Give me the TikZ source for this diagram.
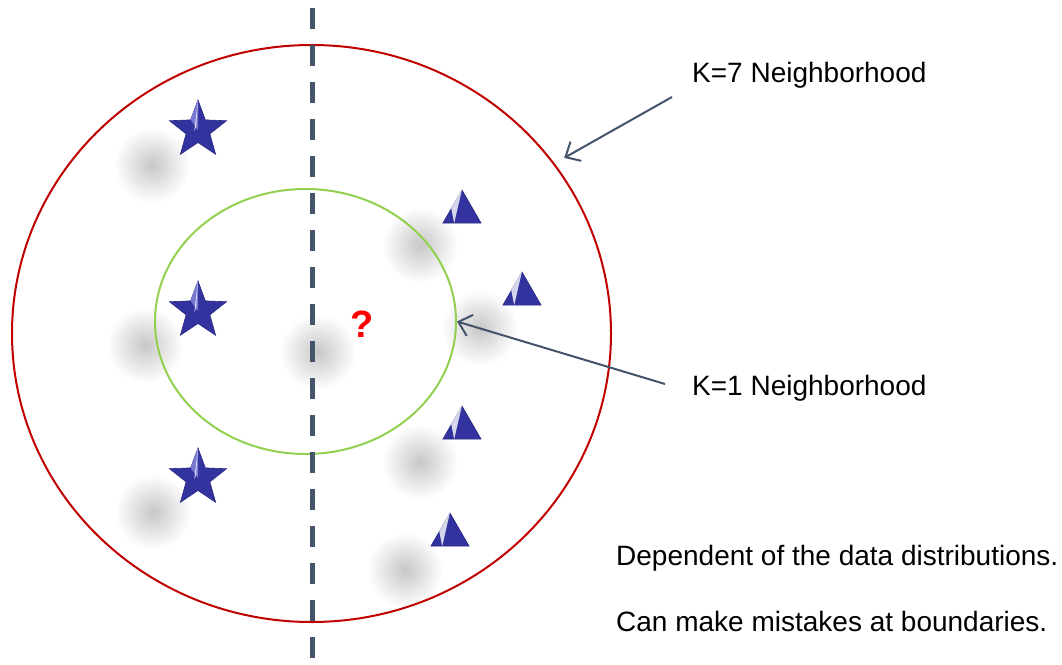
\documentclass[tikz,border=0pt]{standalone}
\usepackage{fontspec}
\setmainfont{Liberation Sans}
\usetikzlibrary{shapes.geometric, arrows.meta, calc}

\definecolor{slate}{RGB}{68,84,106}
\definecolor{ringred}{RGB}{192,0,0}
\definecolor{ringgreen}{RGB}{146,208,80}
\definecolor{markblue}{RGB}{51,51,160}
\definecolor{marklight}{RGB}{120,120,210}

\begin{document}
\begin{tikzpicture}[x=1pt, y=-1pt,
    lbl/.style={anchor=base west, inner sep=0pt, font=\fontsize{28}{32}\selectfont},
    starpt/.style={star, star points=5, star point ratio=2.4, minimum size=60pt,
        inner sep=0pt, fill=markblue, draw=markblue!80!black, line width=.6pt},
    tript/.style={regular polygon, regular polygon sides=3, minimum size=44pt,
        inner sep=0pt, fill=markblue, draw=markblue!80!black, line width=.6pt},
    blur/.style={inner color=black!22, outer color=white},
    pointer/.style={draw=slate, line width=2pt, -{Straight Barb[length=12pt, width=22pt]}}]
    \useasboundingbox (0,0) rectangle (1062,664);

    % soft shadows
    \foreach \x/\y in {152/165, 145/345, 153/512, 420/245, 480/328, 318/352, 420/462, 405/570}
        \shade[blur] (\x,\y) circle (38);

    % rings and divider
    \node[draw=ringred, line width=2pt, ellipse, minimum width=599pt, minimum height=577pt,
        inner sep=0pt] (k7) at (311.5,333.5) {};
    \node[draw=ringgreen, line width=2pt, ellipse, minimum width=301pt, minimum height=265pt,
        inner sep=0pt] (k1) at (305.5,321.5) {};
    \coordinate (divtop) at (312,8);
    \coordinate (divbot) at (312,664);
    \draw[slate, line width=5pt, dash pattern=on 21pt off 16pt] (divtop) -- (divbot);

    % stars
    \foreach \n/\y in {a/130, b/311, c/478} {
        \node[starpt] (s\n) at (198,\y) {};
        \fill[marklight] (s\n.center) -- (s\n.outer point 1) -- (s\n.inner point 1) -- cycle;
        \fill[white, opacity=.75] (s\n.outer point 1) -- ($(s\n.center)!.25!(s\n.inner point 1)$)
            -- ($(s\n.center)!.3!(s\n.inner point 2)$) -- cycle;
    }

    % triangles
    \foreach \n/\x/\y in {a/462/212, b/522/294, c/462/428, d/450/535} {
        \node[tript] (t\n) at (\x,\y) {};
        \fill[white, opacity=.8] (t\n.corner 1) -- ($(t\n.corner 2)!.3!(t\n.corner 3)$)
            -- ($(t\n.corner 1)!.55!(t\n.corner 2)$) -- cycle;
    }

    \node[text=red, font=\bfseries\fontsize{38}{40}\selectfont] (query) at (362,324) {?};

    % labels
    \node[lbl] (lbl7) at (692,82) {K=7 Neighborhood};
    \node[lbl] (lbl1) at (692,395) {K=1 Neighborhood};
    \node[lbl] (note1) at (616,565) {Dependent of the data distributions.};
    \node[lbl] (note2) at (616,631) {Can make mistakes at boundaries.};

    \coordinate (from7) at (672,97);
    \coordinate (from1) at (665,384);
    \draw[pointer, shorten >=11pt] (from7) -- (k7.35);
    \draw[pointer] (from1) -- (k1.east);
\end{tikzpicture}
\end{document}
